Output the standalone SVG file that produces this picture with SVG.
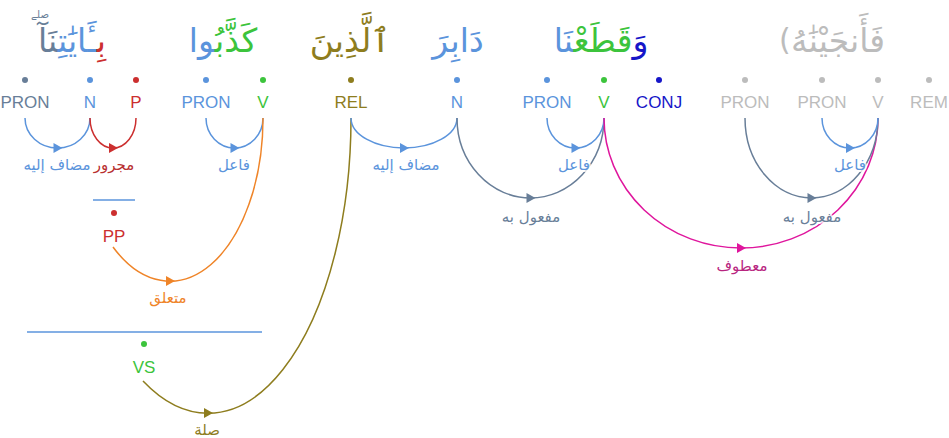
<svg xmlns="http://www.w3.org/2000/svg" xmlns:xlink="http://www.w3.org/1999/xlink" width="949" height="438" viewBox="0 0 949 438">
<style>
.tag{font-family:"Liberation Sans",Arial,sans-serif;font-size:17px;text-anchor:middle}
.ar{font-family:"DejaVu Sans",sans-serif;text-anchor:middle}
.w{font-size:33px}
.lbl{font-size:15px;paint-order:stroke;stroke:#fff;stroke-width:4;stroke-opacity:0.75;stroke-linejoin:round}
.arc{fill:none;stroke-width:1.5}
.slate{fill:#687e98}.blue{fill:#5b94dc}.red{fill:#cc2f2f}.green{fill:#3cc43c}.olive{fill:#8e7d1e}.navy{fill:#1616c8}.grey{fill:#bcbcbc}.orange{fill:#ef8428}.mag{fill:#df169d}
</style>
<defs>
<path id="ah" d="M-4,-5 L5,0 L-4,5 Z"/>
</defs>

<g id="word1">
<text class="ar w" x="72" y="52"><tspan class="red">بِ</tspan><tspan class="blue">ـَٔايَٰتِ</tspan><tspan class="slate">نَآ</tspan></text>
<text class="ar slate" x="40" y="18" font-size="10">صلے</text>
</g>
<g id="word2">
<text class="ar w" x="223" y="52"><tspan class="green">كَذَّبُ</tspan><tspan class="blue">وا</tspan></text>
</g>
<g id="word3"><text class="ar w olive" x="350" y="52">ٱلَّذِينَ</text></g>
<g id="word4"><text class="ar w blue" x="458" y="52">دَابِرَ</text></g>
<g id="word5">
<text class="ar w" x="601" y="52"><tspan class="navy">وَ</tspan><tspan class="green">قَطَعْ</tspan><tspan class="blue">نَا</tspan></text>
</g>
<g id="word6">
<text class="grey" x="779" y="50" font-family="DejaVu Sans, sans-serif" font-size="30" direction="ltr">(</text>
<text class="ar w grey" x="838" y="52">فَأَنجَيْنَٰهُ</text>
</g>

<g id="n-pron1"><circle cx="25" cy="80" r="3" class="slate"/><text class="tag slate" x="25" y="108">PRON</text></g>
<g id="n-n1"><circle cx="90" cy="80" r="3" class="blue"/><text class="tag blue" x="90" y="108">N</text></g>
<g id="n-p"><circle cx="136" cy="80" r="3" class="red"/><text class="tag red" x="136" y="108">P</text></g>
<g id="n-pron2"><circle cx="206" cy="80" r="3" class="blue"/><text class="tag blue" x="206" y="108">PRON</text></g>
<g id="n-v1"><circle cx="263" cy="80" r="3" class="green"/><text class="tag green" x="263" y="108">V</text></g>
<g id="n-rel"><circle cx="351" cy="80" r="3" class="olive"/><text class="tag olive" x="351" y="108">REL</text></g>
<g id="n-n2"><circle cx="457" cy="80" r="3" class="blue"/><text class="tag blue" x="457" y="108">N</text></g>
<g id="n-pron3"><circle cx="547" cy="80" r="3" class="blue"/><text class="tag blue" x="547" y="108">PRON</text></g>
<g id="n-v2"><circle cx="604" cy="80" r="3" class="green"/><text class="tag green" x="604" y="108">V</text></g>
<g id="n-conj"><circle cx="659" cy="80" r="3" class="navy"/><text class="tag navy" x="659" y="108">CONJ</text></g>
<g id="n-pron4"><circle cx="745" cy="80" r="3" class="grey"/><text class="tag grey" x="745" y="108">PRON</text></g>
<g id="n-pron5"><circle cx="822" cy="80" r="3" class="grey"/><text class="tag grey" x="822" y="108">PRON</text></g>
<g id="n-v3"><circle cx="878" cy="80" r="3" class="grey"/><text class="tag grey" x="878" y="108">V</text></g>
<g id="n-rem"><circle cx="929" cy="80" r="3" class="grey"/><text class="tag grey" x="929" y="108">REM</text></g>

<g id="n-pp">
<line x1="93" y1="200" x2="135" y2="200" stroke="#5b94dc" stroke-width="1.5"/>
<circle cx="114" cy="213" r="3" class="red"/><text class="tag red" x="114" y="242">PP</text>
</g>
<g id="n-vs">
<line x1="27" y1="332" x2="262" y2="332" stroke="#5b94dc" stroke-width="1.5"/>
<circle cx="144" cy="344" r="3" class="green"/><text class="tag green" x="144" y="373">VS</text>
</g>

<g id="connectors">
<path class="arc" stroke="#5b94dc" d="M90,118 A32.5,30 0 0 1 25,118"/>
<use xlink:href="#ah" x="57.5" y="148" class="blue"/>
<path class="arc" stroke="#cc2f2f" d="M136,118 A23,30 0 0 1 90,118"/>
<use xlink:href="#ah" x="113" y="148" class="red"/>
<path class="arc" stroke="#5b94dc" d="M263,118 A28.5,30 0 0 1 206,118"/>
<use xlink:href="#ah" x="234.5" y="148" class="blue"/>
<path class="arc" stroke="#ef8428" d="M263,118 A93,163 0 0 1 113,247"/>
<use xlink:href="#ah" x="170" y="281" class="orange"/>
<path class="arc" stroke="#8e7d1e" d="M351,118 A143,295 0 0 1 143,381"/>
<use xlink:href="#ah" x="208" y="413" class="olive"/>
<path class="arc" stroke="#5b94dc" d="M457,118 A53,30 0 0 1 351,118"/>
<use xlink:href="#ah" x="404" y="148" class="blue"/>
<path class="arc" stroke="#687e98" d="M604,118 A73.5,80 0 0 1 457,118"/>
<use xlink:href="#ah" x="530.5" y="198" class="slate"/>
<path class="arc" stroke="#5b94dc" d="M604,118 A28.5,30 0 0 1 547,118"/>
<use xlink:href="#ah" x="575.5" y="148" class="blue"/>
<path class="arc" stroke="#df169d" d="M878,118 A137,130 0 0 1 604,118"/>
<use xlink:href="#ah" x="741" y="248" class="mag"/>
<path class="arc" stroke="#687e98" d="M878,118 A66.5,80 0 0 1 745,118"/>
<use xlink:href="#ah" x="811.5" y="198" class="slate"/>
<path class="arc" stroke="#5b94dc" d="M878,118 A28,30 0 0 1 822,118"/>
<use xlink:href="#ah" x="850" y="148" class="blue"/>

<text class="ar lbl blue" x="57" y="170">مضاف إليه</text>
<text class="ar lbl" fill="#b83030" x="114" y="170">مجرور</text>
<text class="ar lbl blue" x="234" y="170">فاعل</text>
<text class="ar lbl orange" x="168" y="303">متعلق</text>
<text class="ar lbl olive" x="207" y="435">صلة</text>
<text class="ar lbl blue" x="406" y="170">مضاف إليه</text>
<text class="ar lbl slate" x="531" y="222">مفعول به</text>
<text class="ar lbl blue" x="574" y="170">فاعل</text>
<text class="ar lbl" fill="#b8257f" x="742" y="271">معطوف</text>
<text class="ar lbl slate" x="812" y="222">مفعول به</text>
<text class="ar lbl blue" x="850" y="170">فاعل</text>
</g>
</svg>
